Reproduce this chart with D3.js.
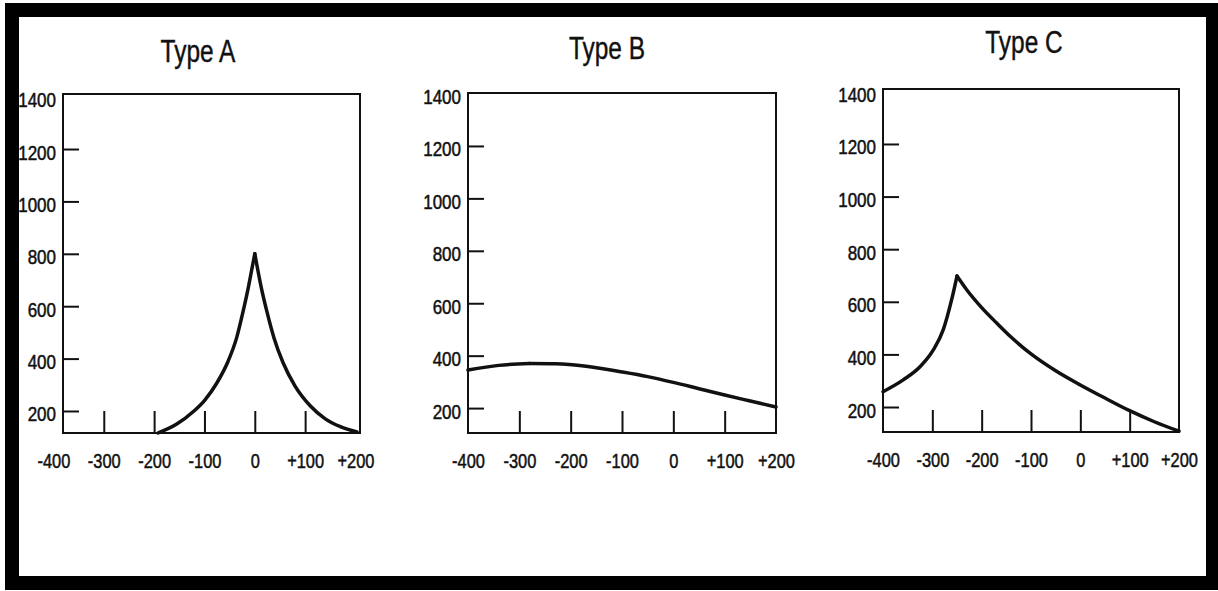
<!DOCTYPE html>
<html>
<head>
<meta charset="utf-8">
<script src="https://cdn.jsdelivr.net/npm/d3@7"></script>
<style>
  body { margin: 0; background: #fff; }
  svg { display: block; }
  .axis text { font-family: "Liberation Sans", Arial, sans-serif; font-size: 20px; fill: #111; stroke: #111; stroke-width: 0.5px; }
  .axis line { stroke: #111; stroke-width: 2px; }
  .title { font-family: "Liberation Sans", Arial, sans-serif; font-size: 31px; fill: #111; stroke: #111; stroke-width: 0.4px; }
</style>
</head>
<body>
<svg width="1218" height="591"></svg>
<script>
var typeNames = ["Type A", "Type B", "Type C"];
var xTicks = [-400, -300, -200, -100, 0, 100, 200];
var xTickLabels = ["-400", "-300", "-200", "-100", "0", "+100", "+200"];
var yTicks = [200, 400, 600, 800, 1000, 1200, 1400];

// Type A : sharp peak at 0
var typeAX = [-192, -155, -122, -100, -76, -53, -36, -23, -13, -6, 0, 6, 13, 24, 38, 56, 80, 110, 140, 170, 203];
var typeAY = [116, 150, 198, 240, 305, 390, 480, 582, 670, 740, 800, 738, 670, 580, 480, 385, 295, 220, 170, 140, 120];

// Type B : flat, slowly falling
var typeBX = [-400, -340, -280, -230, -170, -100, -50, 0, 50, 100, 150, 200];
var typeBY = [345, 363, 370, 369, 360, 338, 320, 298, 274, 250, 227, 204];

// Type C : peak near -250
var typeCX = [-400, -359, -325, -298, -278, -261, -250, -230, -200, -170, -140, -100, -50, 0, 50, 100, 150, 200];
var typeCY = [258, 303, 353, 417, 493, 607, 698, 645, 578, 520, 465, 402, 338, 284, 234, 186, 144, 108];

var seriesX = [typeAX, typeBX, typeCX];
var seriesY = [typeAY, typeBY, typeCY];

// box of every panel (pixels) and the data extent it covers
var layout = [
  {xDomain: [-381, 209], xRange: [63, 360],   yDomain: [116, 1410], yRange: [433, 94], titleX: 198,  titleY: 62},
  {xDomain: [-400, 200], xRange: [468, 776],  yDomain: [105, 1402], yRange: [433, 93], titleX: 607,  titleY: 59},
  {xDomain: [-400, 200], xRange: [883, 1179], yDomain: [105, 1409], yRange: [432, 89], titleX: 1024, titleY: 53}
];

var svg = d3.select("svg");

// narrow lettering like the printed figure
function condense(sel, k) {
  sel.each(function() {
    var w = this.getComputedTextLength();
    d3.select(this).attr("textLength", w * k).attr("lengthAdjust", "spacingAndGlyphs");
  });
}

// thick outer frame
svg.append("rect")
    .attr("x", 12).attr("y", 10)
    .attr("width", 1201).attr("height", 573)
    .attr("fill", "#fff")
    .attr("stroke", "#000")
    .attr("stroke-width", 14);

layout.forEach(function(p, i) {
  var x = d3.scaleLinear().domain(p.xDomain).range(p.xRange);
  var y = d3.scaleLinear().domain(p.yDomain).range(p.yRange);
  var g = svg.append("g");

  // titles
  g.append("text")
      .attr("class", "title")
      .attr("x", p.titleX)
      .attr("y", p.titleY)
      .attr("text-anchor", "middle")
      .text(typeNames[i])
      .call(condense, 0.79);

  // plot box
  g.append("rect")
      .attr("x", p.xRange[0])
      .attr("y", p.yRange[1])
      .attr("width", p.xRange[1] - p.xRange[0])
      .attr("height", p.yRange[0] - p.yRange[1])
      .attr("fill", "none")
      .attr("stroke", "#111")
      .attr("stroke-width", 2);

  // y axis, ticks point inside
  var gy = g.append("g")
      .attr("class", "axis")
      .attr("transform", "translate(" + p.xRange[0] + ",0)")
      .call(d3.axisLeft(y).tickValues(yTicks).tickSize(-16).tickPadding(7).tickFormat(d3.format("d")));
  gy.select(".domain").remove();
  gy.selectAll(".tick").filter(function(d) { return d === 1400; }).select("line").remove();
  gy.selectAll("text").attr("dy", "0.5em").call(condense, 0.85);

  // x axis, ticks point up
  var gx = g.append("g")
      .attr("class", "axis")
      .attr("transform", "translate(0," + p.yRange[0] + ")")
      .call(d3.axisBottom(x).tickValues(xTicks).tickSize(-22).tickPadding(21)
        .tickFormat(function(d, j) { return xTickLabels[j]; }));
  gx.select(".domain").remove();
  gx.selectAll(".tick").filter(function(d) { return d === -400 || d === 200; }).select("line").remove();
  gx.selectAll("text").call(condense, 0.82);

  // curve, split at the peak so the cusp stays sharp
  var pts = seriesX[i].map(function(v, j) { return [v, seriesY[i][j]]; });
  var peak = d3.maxIndex(pts, function(d) { return d[1]; });
  var line = d3.line()
      .x(function(d) { return x(d[0]); })
      .y(function(d) { return y(d[1]); })
      .curve(d3.curveMonotoneX);

  [pts.slice(0, peak + 1), pts.slice(peak)].forEach(function(seg) {
    if (seg.length < 2) return;
    g.append("path")
        .attr("d", line(seg))
        .attr("fill", "none")
        .attr("stroke", "#111")
        .attr("stroke-width", 3.5)
        .attr("stroke-linejoin", "round")
        .attr("stroke-linecap", "round");
  });
});
</script>
</body>
</html>
